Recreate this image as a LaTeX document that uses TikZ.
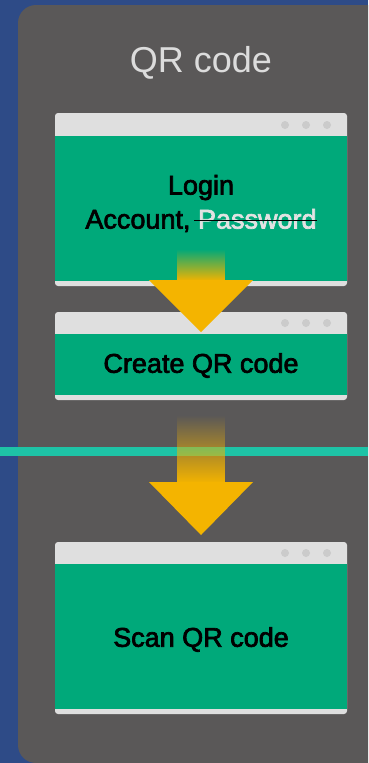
\documentclass[tikz,border=0pt]{standalone}
\usepackage{fontspec}
\setmainfont{Liberation Sans}
\newfontfamily\boxfont{Liberation Sans}[FakeBold=2.6]
\usetikzlibrary{fadings}

\definecolor{bgblue}{HTML}{2E4B87}
\definecolor{panelgray}{HTML}{5A5858}
\definecolor{barlight}{HTML}{DFDFDF}
\definecolor{dotgray}{HTML}{CBCBCB}
\definecolor{screengreen}{HTML}{00A97A}
\definecolor{arrowyellow}{HTML}{F4B400}
\definecolor{lineteal}{HTML}{1EC3A6}
\definecolor{titlegray}{HTML}{DCDCDC}
\definecolor{crossgray}{HTML}{E2E2E2}

\newlength{\strikelen}
\newcommand{\strikeword}[1]{\settowidth{\strikelen}{#1}\addtolength{\strikelen}{4pt}%
    \textcolor{crossgray}{#1}\llap{\rule[0.27em]{\strikelen}{1.5pt}}}

\tikzfading[name=shaftfade, top color=transparent!100, bottom color=transparent!0]

\begin{document}
\begin{tikzpicture}[x=1pt, y=-1pt,
    winframe/.style={fill=barlight, rounded corners=3pt, minimum width=292pt, inner sep=0pt},
    winbody/.style={fill=screengreen, minimum width=292pt, inner sep=0pt},
    wintext/.style={align=center, text=black, inner sep=0pt, font=\boxfont\fontsize{27}{34}\selectfont},
    windot/.style={circle, fill=dotgray, minimum size=8pt, inner sep=0pt},
    shaft/.style={fill=arrowyellow, path fading=shaftfade},
    arrowhead/.style={fill=arrowyellow}]
    \useasboundingbox (0,0) rectangle (368,763);
    \clip (0,0) rectangle (368,763);
    % background and panel
    \fill[bgblue] (0,0) rectangle (368,763);
    \fill[panelgray, rounded corners=18pt] (18,5) rectangle (420,763);
    \node[text=titlegray, font=\fontsize{36}{40}\selectfont, anchor=base] (title) at (201,72) {QR code};

    % windows
    \node[winframe, minimum height=173] (loginwin) at (201,199.5) {};
    \node[winbody, minimum height=145] (login) at (201,208.5) {};
    \node[wintext] (logintext) at ([yshift=5pt]login.center) {Login\\Account, \strikeword{Password}};
    \node[winframe, minimum height=88] (createwin) at (201,356) {};
    \node[winbody, minimum height=61] (create) at (201,364.5) {};
    \node[wintext] (createtext) at ([yshift=-1pt]create.center) {Create QR code};
    \node[winframe, minimum height=172] (scanwin) at (201,628) {};
    \node[winbody, minimum height=145] (scan) at (201,636.5) {};
    \node[wintext] (scantext) at ([yshift=-3pt]scan.center) {Scan QR code};
    \foreach \dx in {285,306,327} {
        \node[windot] (logindot\dx) at (\dx,125) {};
        \node[windot] (createdot\dx) at (\dx,323) {};
        \node[windot] (scandot\dx) at (\dx,553) {};
    }

    % divider line
    \fill[lineteal] (0,447) rectangle (368,456);

    % arrows
    \fill[shaft] (177,249) rectangle (225,281);
    \fill[arrowhead] (149,280) -- (253,280) -- (201,332) -- cycle;
    \fill[shaft] (177,415) rectangle (225,483);
    \fill[arrowhead] (149,482) -- (253,482) -- (201,535) -- cycle;
\end{tikzpicture}
\end{document}
